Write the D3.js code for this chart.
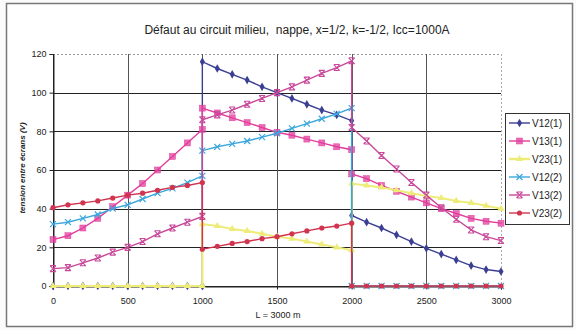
<!DOCTYPE html>
<html>
<head>
<meta charset="utf-8">
<script src="https://cdn.jsdelivr.net/npm/d3@7"></script>
<style>
  body { margin: 0; background: #fff; }
  svg { display: block; font-family: "Liberation Sans", Arial, sans-serif; }
</style>
</head>
<body>
<div id="chart"></div>
<script>
// distance along the line (m); 1000 and 2000 appear twice (jump at the bonding points)
const distances = [0, 100, 200, 300, 400, 500, 600, 700, 800, 900, 1000,
  1000, 1100, 1200, 1300, 1400, 1500, 1600, 1700, 1800, 1900, 2000,
  2000, 2100, 2200, 2300, 2400, 2500, 2600, 2700, 2800, 2900, 3000];

const v12_1 = [0, 0, 0, 0, 0, 0, 0, 0, 0, 0, 0,
  116, 112.5, 109.5, 106.5, 103, 100, 97, 94, 91, 88.5, 85.5,
  36.5, 33, 30, 26.5, 23, 19.5, 16.5, 13.5, 10.5, 8.5, 7.5];
const v13_1 = [24, 26, 30, 35, 41, 47, 53, 60, 67, 74, 81,
  92, 89.5, 87, 84.5, 82, 79.5, 78, 76, 74, 72, 70.5,
  58, 55.5, 52, 49, 46, 43, 40, 37.5, 35, 33.5, 32.5];
const v23_1 = [0, 0, 0, 0, 0, 0, 0, 0, 0, 0, 0,
  32, 31, 29.5, 28.5, 27, 25.5, 24.5, 23, 21.5, 20, 18.5,
  53, 52, 51, 49.5, 48, 46.5, 45.5, 44, 43, 41.5, 40];
const v12_2 = [32, 33, 35, 37, 40, 42, 45, 48, 50.5, 53.5, 57,
  70, 72, 73.5, 75, 77, 79, 81.5, 84, 86.5, 89, 92,
  0, 0, 0, 0, 0, 0, 0, 0, 0, 0, 0];
const v13_2 = [9, 9.5, 12, 14.5, 17.5, 20, 23, 27, 30, 33, 36,
  86, 88.5, 91, 94, 97, 100, 103, 106.5, 110, 113, 116.5,
  82, 75, 67.5, 60.5, 53.5, 47, 40.5, 34.5, 29, 25.5, 23.5];
const v23_2 = [40.5, 42, 43, 44, 45.5, 47, 48, 49.5, 51, 52, 53.5,
  19, 20.5, 22, 23, 24.5, 25.5, 27, 28.5, 30, 31, 32.5,
  0, 0, 0, 0, 0, 0, 0, 0, 0, 0, 0];

const seriesNames = ["V12(1)", "V13(1)", "V23(1)", "V12(2)", "V13(2)", "V23(2)"];
const seriesValues = [v12_1, v13_1, v23_1, v12_2, v13_2, v23_2];
const xTicks = [0, 500, 1000, 1500, 2000, 2500, 3000];
const yTicks = [0, 20, 40, 60, 80, 100, 120];

const colors = ["#3b3f94", "#e23d9c", "#eeec78", "#3ba6dc", "#c8489a", "#d0344f"];
const markers = ["diamond", "square", "triangle", "x", "star", "circle"];

const W = 576, H = 330;
const plot = { left: 53, right: 501, top: 54, bottom: 286 };

const svg = d3.select("#chart").append("svg")
  .attr("width", W)
  .attr("height", H);

svg.append("rect")
  .attr("x", 0).attr("y", 0).attr("width", W).attr("height", H)
  .attr("fill", "#fbfbfb");

// outer frame
svg.append("rect")
  .attr("x", 6.5).attr("y", 3.5).attr("width", 566).attr("height", 323)
  .attr("fill", "#fff")
  .attr("stroke", "#777")
  .attr("stroke-width", 1.5);

const x = d3.scaleLinear().domain([0, 3000]).range([plot.left, plot.right]);
const y = d3.scaleLinear().domain([0, 120]).range([plot.bottom, plot.top]);

// grid
svg.append("g").selectAll("line.h")
  .data(yTicks)
  .join("line")
  .attr("x1", plot.left).attr("x2", plot.right)
  .attr("y1", d => Math.round(y(d)) + 0.5).attr("y2", d => Math.round(y(d)) + 0.5)
  .attr("stroke", d => d === 120 ? "#999" : "#222")
  .attr("stroke-dasharray", d => d === 120 ? "2,2" : null)
  .attr("stroke-width", 1);

svg.append("g").selectAll("line.v")
  .data(xTicks)
  .join("line")
  .attr("x1", d => Math.round(x(d)) + 0.5).attr("x2", d => Math.round(x(d)) + 0.5)
  .attr("y1", plot.top).attr("y2", plot.bottom)
  .attr("stroke", d => d === 3000 ? "#aaa" : (d === 0 ? "#222" : "#555"))
  .attr("stroke-dasharray", d => d === 3000 ? "2,2" : null)
  .attr("stroke-width", 1);

// axes
const yAxis = svg.append("g")
  .attr("transform", `translate(${plot.left + 0.5},0)`)
  .call(d3.axisLeft(y).tickValues(yTicks).tickSize(4).tickPadding(3));
const xAxis = svg.append("g")
  .attr("transform", `translate(0,${Math.round(plot.bottom) + 0.5})`)
  .call(d3.axisBottom(x).tickValues(xTicks).tickFormat(d3.format("d")).tickSize(3).tickPadding(8));

[yAxis, xAxis].forEach(a => {
  a.select(".domain").attr("stroke", "#222");
  a.selectAll(".tick line").attr("stroke", "#222");
  a.selectAll("text")
    .attr("fill", "#222")
    .style("font-size", "9px")
    .style("font-family", "'Liberation Sans Narrow', 'Liberation Sans', Arial, sans-serif");
});

// lines + markers
const line = d3.line()
  .x((d, i) => x(distances[i]))
  .y(d => y(d));

function drawMarker(g, type, color, size) {
  const s = size;
  if (type === "diamond") {
    g.append("path").attr("d", d3.symbol(d3.symbolDiamond, 22)()).attr("fill", color);
  } else if (type === "square") {
    g.append("rect").attr("x", -3).attr("y", -3).attr("width", 6).attr("height", 6)
      .attr("fill", color).attr("stroke", color).attr("stroke-width", 0.5).attr("fill-opacity", 0.75);
  } else if (type === "triangle") {
    g.append("path").attr("d", d3.symbol(d3.symbolTriangle, 22)()).attr("fill", color);
  } else if (type === "x") {
    g.append("path").attr("d", `M${-s},${-s}L${s},${s}M${-s},${s}L${s},${-s}`)
      .attr("stroke", color).attr("stroke-width", 1.2);
  } else if (type === "star") {
    g.append("path").attr("d", `M${-s},${-s}L${s},${s}M${-s},${s}L${s},${-s}M${-s},${-s}L${s},${-s}M${-s},${s}L${s},${s}`)
      .attr("stroke", color).attr("stroke-width", 1.1);
  } else if (type === "circle") {
    g.append("circle").attr("r", 2.6).attr("fill", color);
  }
}

seriesValues.forEach((vals, k) => {
  const g = svg.append("g");
  g.append("path")
    .datum(vals)
    .attr("d", line)
    .attr("fill", "none")
    .attr("stroke", colors[k])
    .attr("stroke-width", k === 2 ? 2 : 1.4);
  vals.forEach((v, i) => {
    const m = g.append("g").attr("transform", `translate(${x(distances[i])},${y(v)})`);
    drawMarker(m, markers[k], colors[k], 3);
  });
});

// title
svg.append("text")
  .attr("x", 297).attr("y", 34)
  .attr("text-anchor", "middle")
  .style("font-size", "12px")
  .style("white-space", "pre")
  .attr("fill", "#222")
  .text("Défaut au circuit milieu,  nappe, x=1/2, k=-1/2, Icc=1000A");

// axis titles
svg.append("text")
  .attr("x", 278).attr("y", 318)
  .attr("text-anchor", "middle")
  .style("font-size", "9px")
  .attr("fill", "#222")
  .text("L = 3000 m");

svg.append("text")
  .attr("transform", "translate(25,168) rotate(-90)")
  .attr("text-anchor", "middle")
  .style("font-size", "8px")
  .style("font-weight", "bold")
  .style("font-style", "italic")
  .attr("fill", "#222")
  .text("tension entre écrans (V)");

// legend
const legend = svg.append("g");
legend.append("rect")
  .attr("x", 505.5).attr("y", 113.5).attr("width", 64).attr("height", 111)
  .attr("fill", "#fff").attr("stroke", "#333").attr("stroke-width", 1);

seriesNames.forEach((name, k) => {
  const ly = 123 + k * 18;
  const it = legend.append("g");
  it.append("line")
    .attr("x1", 509).attr("x2", 530)
    .attr("y1", ly).attr("y2", ly)
    .attr("stroke", colors[k])
    .attr("stroke-width", k === 2 ? 2.5 : 1.4);
  const m = it.append("g").attr("transform", `translate(519.5,${ly})`);
  drawMarker(m, markers[k], colors[k], 3);
  it.append("text")
    .attr("x", 532).attr("y", ly + 3.5)
    .style("font-size", "10px")
    .attr("fill", "#222")
    .text(name);
});
</script>
</body>
</html>
